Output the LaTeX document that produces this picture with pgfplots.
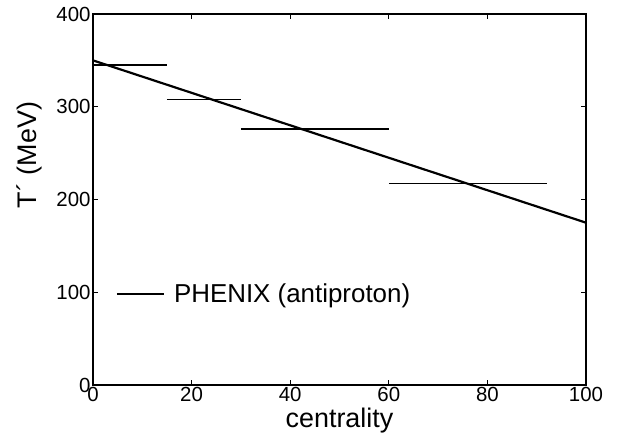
\documentclass[border=0pt]{standalone}
\usepackage{fontspec}
\setmainfont{Liberation Sans}
\usepackage{pgfplots}
\pgfplotsset{compat=1.18}
\begin{document}
\begin{tikzpicture}
\begin{axis}[
  scale only axis,
  width=493bp, height=371bp,
  xmin=0, xmax=100, ymin=0, ymax=400,
  xtick={0,20,40,60,80,100},
  ytick={0,100,200,300,400},
  tick align=inside,
  major tick length=5bp,
  axis line style={line width=1.3pt},
  tick style={line width=1pt, black},
  /pgf/number format/assume math mode=true,
  tick label style={font=\fontsize{20.5}{23}\selectfont},
  xticklabel style={yshift=1pt},
  yticklabel style={xshift=1pt},
  xlabel={centrality},
  ylabel={T´ (MeV)},
  label style={font=\fontsize{27}{29}\selectfont},
  xlabel style={yshift=1pt},
  ylabel style={at={(ticklabel cs:0.62)}, yshift=8pt},
  legend style={draw=none, fill=none, at={(0.04,0.245)}, anchor=west,
    font=\fontsize{26}{28}\selectfont},
  legend image code/.code={\draw[#1] (0bp,0bp) -- (47bp,0bp); \path (54bp,0bp);},
]
\coordinate (sw) at (rel axis cs:0,0);
\coordinate (ne) at (rel axis cs:1,1);
\addplot[forget plot, line width=1.2pt, black] coordinates {(0,345) (15,345)};
\addplot[forget plot, line width=1.2pt, black] coordinates {(15,308) (30,308)};
\addplot[forget plot, line width=1.2pt, black] coordinates {(30,276) (60,276)};
\addplot[forget plot, line width=1.2pt, black] coordinates {(60,217) (92,217)};
\addplot[line width=2.2pt, black] coordinates {(0,350) (100,175)};
\addlegendentry{PHENIX (antiproton)}
\end{axis}
\pgfresetboundingbox
\path ([shift={(-93bp,-56bp)}]sw) rectangle ([shift={(31bp,14bp)}]ne);
\end{tikzpicture}
\end{document}
